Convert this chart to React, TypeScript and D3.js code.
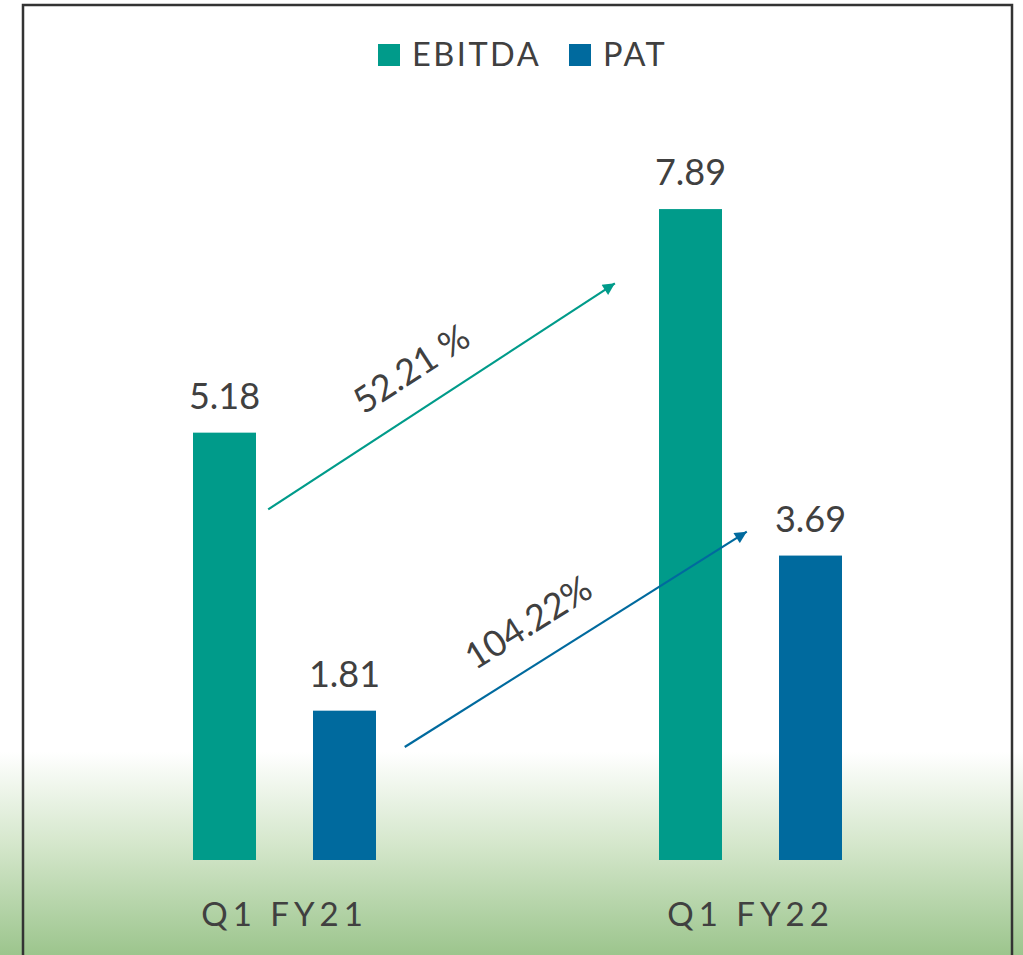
import React from "react";
import * as d3 from "d3";

const categories = ["Q1 FY21", "Q1 FY22"];
const seriesNames = ["EBITDA", "PAT"];
const ebitda = [5.18, 7.89];
const pat = [1.81, 3.69];
const seriesColors = ["#009B8A", "#006A9E"];

// Growth annotations: positions in category-index units (x) and value units (y)
const growthLabels = ["52.21 %", "104.22%"];
const growthFromX = [-0.035, 0.258];
const growthFromY = [4.25, 1.37];
const growthToX = [0.709, 0.992];
const growthToY = [6.99, 3.98];
const growthLabelT = [0.475, 0.423];

const W = 1023;
const H = 955;
const FONT = "Lato, 'Open Sans', sans-serif";
const TEXT = "#404040";

export default function App() {
  const baseline = 860;
  const y = d3.scaleLinear().domain([0, 10]).range([baseline, baseline - 825]);
  const x0 = d3.scaleBand<string>().domain(categories).range([51.5, 983.5]);
  const x1 = d3
    .scaleBand<string>()
    .domain(seriesNames)
    .range([-91.5, 91.5])
    .paddingInner(0.475)
    .paddingOuter(0);
  const xIdx = d3
    .scaleLinear()
    .domain([0, 1])
    .range([
      (x0(categories[0]) as number) + x0.bandwidth() / 2,
      (x0(categories[1]) as number) + x0.bandwidth() / 2,
    ]);

  const seriesValues = [ebitda, pat];

  return (
    <svg
      width={W}
      height={H}
      style={{ position: "absolute", left: 0, top: 0, display: "block" }}
      fontFamily={FONT}
    >
      <defs>
        <linearGradient id="bg" x1="0" y1="0" x2="0" y2="1">
          <stop offset="0" stopColor="#ffffff" />
          <stop offset="0.45" stopColor="#d5e7cc" />
          <stop offset="1" stopColor="#9cc58d" />
        </linearGradient>
        {seriesColors.map((c, i) => (
          <marker
            key={i}
            id={`ah${i}`}
            viewBox="0 0 10 10"
            refX="10"
            refY="5"
            markerUnits="userSpaceOnUse"
            markerWidth="14"
            markerHeight="12"
            orient="auto"
          >
            <path d="M0,0 L10,5 L0,10 Z" fill={c} />
          </marker>
        ))}
      </defs>
      <rect x={0} y={0} width={W} height={H} fill="#ffffff" />
      <rect x={0} y={752} width={W} height={H - 752} fill="url(#bg)" />

      {/* Legend */}
      {seriesNames.map((s, i) => {
        const lx = [378, 569][i];
        return (
          <g key={s}>
            <rect x={lx} y={44} width={22} height={22} fill={seriesColors[i]} />
            <text
              x={lx + 34}
              y={66}
              fontSize={32.5}
              fill={TEXT}
              letterSpacing={2.5}
            >
              {s}
            </text>
          </g>
        );
      })}

      {/* Bars */}
      {categories.map((c, ci) => (
        <g key={c} transform={`translate(${(x0(c) as number) + x0.bandwidth() / 2},0)`}>
          {seriesNames.map((s, si) => {
            const v = seriesValues[si][ci];
            const bx = x1(s) as number;
            return (
              <g key={s}>
                <rect
                  x={bx}
                  y={y(v)}
                  width={x1.bandwidth()}
                  height={baseline - y(v)}
                  fill={seriesColors[si]}
                />
                <text
                  x={bx + x1.bandwidth() / 2}
                  y={y(v) - 24}
                  textAnchor="middle"
                  fontSize={36}
                  fill={TEXT}
                >
                  {v.toFixed(2)}
                </text>
              </g>
            );
          })}
          <text
            x={0}
            y={926}
            textAnchor="middle"
            fontSize={33}
            fill={TEXT}
            letterSpacing={5}
            style={{ whiteSpace: "pre" }}
          >
            {c}
          </text>
        </g>
      ))}

      {/* Growth arrows */}
      {growthLabels.map((lab, i) => {
        const ax = xIdx(growthFromX[i]);
        const ay = y(growthFromY[i]);
        const bx = xIdx(growthToX[i]);
        const by = y(growthToY[i]);
        const ang = (Math.atan2(by - ay, bx - ax) * 180) / Math.PI;
        const t = growthLabelT[i];
        const px = ax + (bx - ax) * t;
        const py = ay + (by - ay) * t;
        return (
          <g key={lab}>
            <line
              x1={ax}
              y1={ay}
              x2={bx}
              y2={by}
              stroke={seriesColors[i]}
              strokeWidth={2.2}
              markerEnd={`url(#ah${i})`}
            />
            <text
              transform={`translate(${px},${py}) rotate(${ang})`}
              x={0}
              y={-27}
              textAnchor="middle"
              fontSize={36}
              fill={TEXT}
            >
              {lab}
            </text>
          </g>
        );
      })}

      {/* Frame */}
      <rect
        x={23}
        y={5}
        width={989}
        height={H + 20}
        fill="none"
        stroke="#333333"
        strokeWidth={2.5}
      />
    </svg>
  );
}
